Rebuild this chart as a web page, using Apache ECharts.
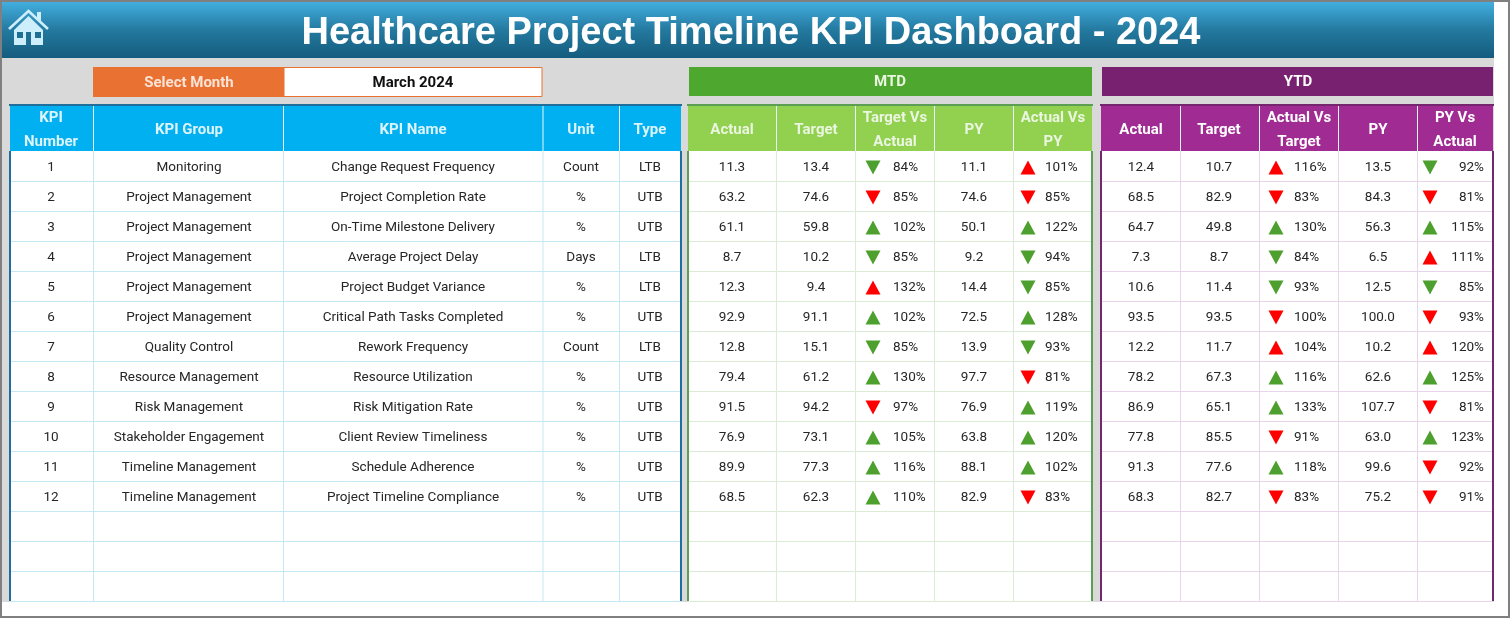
<!DOCTYPE html>
<html>
<head>
<meta charset="utf-8">
<title>Healthcare Project Timeline KPI Dashboard - 2024</title>
<script src="https://cdn.jsdelivr.net/npm/echarts@6/dist/echarts.min.js"></script>
<style>
html, body { margin: 0; padding: 0; background: #fff; }
#container { width: 1510px; height: 618px; }
</style>
</head>
<body>
<div id="container"></div>
<script>
var pageTitle = 'Healthcare Project Timeline KPI Dashboard - 2024';
var selectLabel = 'Select Month';
var selectedMonth = 'March 2024';

var kpiNumbers = ['1', '2', '3', '4', '5', '6', '7', '8', '9', '10', '11', '12'];
var kpiGroups = ['Monitoring', 'Project Management', 'Project Management', 'Project Management', 'Project Management', 'Project Management', 'Quality Control', 'Resource Management', 'Risk Management', 'Stakeholder Engagement', 'Timeline Management', 'Timeline Management'];
var kpiNames = ['Change Request Frequency', 'Project Completion Rate', 'On-Time Milestone Delivery', 'Average Project Delay', 'Project Budget Variance', 'Critical Path Tasks Completed', 'Rework Frequency', 'Resource Utilization', 'Risk Mitigation Rate', 'Client Review Timeliness', 'Schedule Adherence', 'Project Timeline Compliance'];
var kpiUnits = ['Count', '%', '%', 'Days', '%', '%', 'Count', '%', '%', '%', '%', '%'];
var kpiTypes = ['LTB', 'UTB', 'UTB', 'LTB', 'LTB', 'UTB', 'LTB', 'UTB', 'UTB', 'UTB', 'UTB', 'UTB'];

var mtdActual = [11.3, 63.2, 61.1, 8.7, 12.3, 92.9, 12.8, 79.4, 91.5, 76.9, 89.9, 68.5];
var mtdTarget = [13.4, 74.6, 59.8, 10.2, 9.4, 91.1, 15.1, 61.2, 94.2, 73.1, 77.3, 62.3];
var mtdTargetPct = [84, 85, 102, 85, 132, 102, 85, 130, 97, 105, 116, 110];
var mtdPY = [11.1, 74.6, 50.1, 9.2, 14.4, 72.5, 13.9, 97.7, 76.9, 63.8, 88.1, 82.9];
var mtdPYPct = [101, 85, 122, 94, 85, 128, 93, 81, 119, 120, 102, 83];
// icon codes: u/d = arrow direction, g/r = colour
var mtdTargetIcon = ['dg', 'dr', 'ug', 'dg', 'ur', 'ug', 'dg', 'ug', 'dr', 'ug', 'ug', 'ug'];
var mtdPYIcon = ['ur', 'dr', 'ug', 'dg', 'dg', 'ug', 'dg', 'dr', 'ug', 'ug', 'ug', 'dr'];

var ytdActual = [12.4, 68.5, 64.7, 7.3, 10.6, 93.5, 12.2, 78.2, 86.9, 77.8, 91.3, 68.3];
var ytdTarget = [10.7, 82.9, 49.8, 8.7, 11.4, 93.5, 11.7, 67.3, 65.1, 85.5, 77.6, 82.7];
var ytdTargetPct = [116, 83, 130, 84, 93, 100, 104, 116, 133, 91, 118, 83];
var ytdPY = [13.5, 84.3, 56.3, 6.5, 12.5, 100.0, 10.2, 62.6, 107.7, 63.0, 99.6, 75.2];
var ytdPYPct = [92, 81, 115, 111, 85, 93, 120, 125, 81, 123, 92, 91];
var ytdTargetIcon = ['ur', 'dr', 'ug', 'dg', 'dg', 'dr', 'ur', 'ug', 'ug', 'dr', 'ug', 'dr'];
var ytdPYIcon = ['dg', 'dr', 'ug', 'ur', 'dg', 'dr', 'ur', 'ug', 'dr', 'ug', 'dr', 'dr'];

var rowSlots = ['1', '2', '3', '4', '5', '6', '7', '8', '9', '10', '11', '12', '13', '14', '15'];

var infoHeaders = ['KPI\nNumber', 'KPI Group', 'KPI Name', 'Unit', 'Type'];
var mtdHeaders = ['Actual', 'Target', 'Target Vs\nActual', 'PY', 'Actual Vs\nPY'];
var ytdHeaders = ['Actual', 'Target', 'Actual Vs\nTarget', 'PY', 'PY Vs\nActual'];

var textFont = 'Roboto, "Liberation Sans", sans-serif';
var tableTop = 151, rowHeight = 30;

var tables = [
	{ left: 10, right: 681, edges: [93.5, 283.5, 543, 619.5], headers: infoHeaders, head: '#00B0F0', headText: '#DDF4FC', border: '#1F6E9C', line: '#C6E8F5', centers: [51, 189, 413, 581, 650] },
	{ left: 688, right: 1092, edges: [776.5, 855.5, 934.5, 1013.5], headers: mtdHeaders, head: '#92D050', headText: '#EAF6DF', border: '#5C9E52', line: '#DCEBD5', centers: [732, 816, 895, 974, 1053] },
	{ left: 1101, right: 1493, edges: [1180.5, 1259.5, 1338.5, 1417.5], headers: ytdHeaders, head: '#A02B93', headText: '#FFFFFF', border: '#76256F', line: '#E9D5E9', centers: [1141, 1219, 1299, 1378, 1455] }
];

function fmt(v) { return v.toFixed(1); }
function pct(v) { return v + '%'; }

function cellsFor(cols) {
	// cols: [{ x, values, align }]
	var out = [];
	cols.forEach(function (col) {
		col.values.forEach(function (v, row) {
			out.push({ value: [col.x, row], text: v, align: col.align || 'center' });
		});
	});
	return out;
}

function textSeries(idx, cols, font, size, color) {
	var cells = cellsFor(cols);
	return {
		type: 'custom',
		xAxisIndex: idx,
		yAxisIndex: idx,
		silent: true,
		z: 5,
		data: cells,
		renderItem: function (params, api) {
			var c = cells[params.dataIndex];
			var p = api.coord([c.value[0], c.value[1]]);
			return {
				type: 'text',
				style: {
					text: c.text, x: p[0], y: p[1] + 1.5, align: c.align, verticalAlign: 'middle',
					font: size + 'px ' + font, fill: color
				}
			};
		}
	};
}

// one horizontal rule under each row slot
function rowLineSeries(idx, t) {
	return {
		type: 'custom',
		xAxisIndex: idx,
		yAxisIndex: idx,
		silent: true,
		z: 3,
		clip: false,
		data: rowSlots.map(function (s, row) { return [t.left, row]; }),
		renderItem: function (params, api) {
			var p = api.coord([t.left, params.dataIndex]);
			var r = api.coord([t.right, params.dataIndex]);
			var y = Math.round(p[1] + api.size([0, 1])[1] / 2) + 0.5;
			return {
				type: 'line',
				shape: { x1: p[0], y1: y, x2: r[0], y2: y },
				style: { stroke: t.line, lineWidth: 1 }
			};
		}
	};
}

function edgeSeries(idx, t) {
	var all = t.edges.map(function (e) { return { value: [e, 0], outer: false }; });
	all.push({ value: [t.left, 0], outer: true });
	all.push({ value: [t.right, 0], outer: true });
	return {
		type: 'custom',
		xAxisIndex: idx,
		yAxisIndex: idx,
		silent: true,
		z: 4,
		clip: false,
		data: all,
		renderItem: function (params, api) {
			var item = all[params.dataIndex];
			var first = api.coord([item.value[0], 0]);
			var band = api.size([0, 1])[1];
			var top = first[1] - band / 2;
			return {
				type: 'line',
				shape: { x1: first[0], y1: top, x2: first[0], y2: top + band * rowSlots.length },
				style: { stroke: item.outer ? t.border : t.line, lineWidth: item.outer ? 2 : 1 }
			};
		}
	};
}

function arrowSeries(idx, x, icons) {
	return {
		type: 'scatter',
		xAxisIndex: idx,
		yAxisIndex: idx,
		silent: true,
		z: 6,
		symbol: 'triangle',
		symbolSize: [15, 14],
		symbolOffset: [0, 1.5],
		data: icons.map(function (code, row) {
			return {
				value: [x, row],
				symbolRotate: code.charAt(0) === 'd' ? 180 : 0,
				itemStyle: { color: code.charAt(1) === 'g' ? '#4EA02E' : '#FF0000', opacity: 1 }
			};
		})
	};
}

function rect(x, y, w, h, fill, extra) {
	var el = { type: 'rect', shape: { x: x, y: y, width: w, height: h }, style: { fill: fill }, silent: true };
	if (extra) { for (var k in extra) { el.style[k] = extra[k]; } }
	return el;
}

function label(text, x, y, size, color, font, weight, lineHeight) {
	return {
		type: 'text', x: x, y: y, silent: true,
		style: {
			text: text, align: 'center', verticalAlign: 'middle', fill: color,
			font: (weight || 'normal') + ' ' + size + 'px ' + (font || textFont),
			lineHeight: lineHeight || size + 4
		}
	};
}

// sheet background, title band, selector, section bars
var chrome = [
	rect(0, 0, 1510, 618, '#FFFFFF'),
	rect(2, 58, 1492, 544, '#D9D9D9'),
	{
		type: 'rect', silent: true, shape: { x: 2, y: 2, width: 1492, height: 56 },
		style: {
			fill: new echarts.graphic.LinearGradient(0, 0, 0, 1, [
				{ offset: 0, color: '#42AEDF' },
				{ offset: 0.5, color: '#24799F' },
				{ offset: 1, color: '#145C7E' }
			])
		}
	},
	rect(0, 0, 1510, 2, '#808080'), rect(0, 616, 1510, 2, '#808080'),
	rect(0, 0, 2, 618, '#808080'), rect(1508, 0, 2, 618, '#808080'),
	label(pageTitle, 751, 34, 38, '#FFFFFF', '"Liberation Sans", Arial, sans-serif', 'bold'),
	// home icon
	{ type: 'polygon', silent: true, shape: { points: [[37, 12], [41, 12], [41, 22], [37, 18]] }, style: { fill: '#CDEEFB' } },
	{ type: 'polygon', silent: true, shape: { points: [[14, 30], [28.5, 16], [43, 30], [43, 45], [14, 45]] }, style: { fill: '#CDEEFB' } },
	{ type: 'polyline', silent: true, shape: { points: [[9, 29], [28.5, 11], [48, 29]] }, style: { stroke: '#CDEEFB', fill: null, lineWidth: 2.6 } },
	rect(17, 32, 6, 6, '#1F6E94'), rect(35, 32, 6, 6, '#1F6E94'), rect(26, 32, 5, 13, '#1F6E94'),
	// selector
	rect(284, 67.5, 258, 29, '#FFFFFF', { stroke: '#E97132', lineWidth: 1 }),
	rect(93, 67, 191, 30, '#E97132'),
	label(selectLabel, 189, 83, 15, '#FBE3D6', textFont, 'bold'),
	label(selectedMonth, 413, 83, 15, '#111111', textFont, 'bold'),
	// section bars
	rect(689, 67, 403, 29, '#4EA72E'),
	label('MTD', 890, 82.5, 15, '#EAF6DF', textFont, 'bold'),
	rect(1102, 67, 391, 29, '#782170'),
	label('YTD', 1298, 82.5, 15, '#FFFFFF', textFont, 'bold')
];

tables.forEach(function (t) {
	chrome.push(rect(t.left - 1, 104, t.right - t.left + 2, 2, t.border));
	chrome.push(rect(t.left, 106, t.right - t.left, 45, t.head));
	chrome.push(rect(t.left, tableTop, t.right - t.left, rowHeight * 15, '#FFFFFF'));
	t.edges.forEach(function (e) {
		chrome.push({
			type: 'line', silent: true,
			shape: { x1: e, y1: 106, x2: e, y2: tableTop },
			style: { stroke: '#EAF6FB', lineWidth: 1 }
		});
	});
	t.headers.forEach(function (h, i) {
		chrome.push(label(h, t.centers[i], 130, 15, t.headText, textFont, 'bold', 24));
	});
});

var grids = [], xAxes = [], yAxes = [];
tables.forEach(function (t) {
	grids.push({ left: t.left, width: t.right - t.left, top: tableTop, height: rowHeight * 15 });
	xAxes.push({ type: 'value', min: t.left, max: t.right, show: false, gridIndex: grids.length - 1 });
	yAxes.push({
		type: 'category', inverse: true, data: rowSlots, gridIndex: grids.length - 1,
		axisLine: { show: false }, axisTick: { show: false }, axisLabel: { show: false },
		splitLine: { show: false }
	});
});

var c0 = tables[0].centers, c1 = tables[1].centers, c2 = tables[2].centers;
var bodySize = 13.5, bodyColor = '#262626';

var series = [
	rowLineSeries(0, tables[0]), rowLineSeries(1, tables[1]), rowLineSeries(2, tables[2]),
	edgeSeries(0, tables[0]), edgeSeries(1, tables[1]), edgeSeries(2, tables[2]),
	textSeries(0, [
		{ x: c0[0], values: kpiNumbers },
		{ x: c0[1], values: kpiGroups },
		{ x: c0[2], values: kpiNames },
		{ x: c0[3], values: kpiUnits },
		{ x: c0[4], values: kpiTypes }
	], textFont, bodySize, bodyColor),
	textSeries(1, [
		{ x: c1[0], values: mtdActual.map(fmt) },
		{ x: c1[1], values: mtdTarget.map(fmt) },
		{ x: 893, values: mtdTargetPct.map(pct), align: 'left' },
		{ x: c1[3], values: mtdPY.map(fmt) },
		{ x: 1045, values: mtdPYPct.map(pct), align: 'left' }
	], textFont, bodySize, bodyColor),
	textSeries(2, [
		{ x: c2[0], values: ytdActual.map(fmt) },
		{ x: c2[1], values: ytdTarget.map(fmt) },
		{ x: 1294, values: ytdTargetPct.map(pct), align: 'left' },
		{ x: c2[3], values: ytdPY.map(fmt) },
		{ x: 1484, values: ytdPYPct.map(pct), align: 'right' }
	], textFont, bodySize, bodyColor),
	arrowSeries(1, 873, mtdTargetIcon),
	arrowSeries(1, 1028, mtdPYIcon),
	arrowSeries(2, 1276, ytdTargetIcon),
	arrowSeries(2, 1430, ytdPYIcon)
];

var myChart = echarts.init(document.getElementById('container'));
myChart.setOption({
	animation: false,
	graphic: { elements: chrome },
	grid: grids,
	xAxis: xAxes,
	yAxis: yAxes,
	series: series
});
</script>
</body>
</html>
